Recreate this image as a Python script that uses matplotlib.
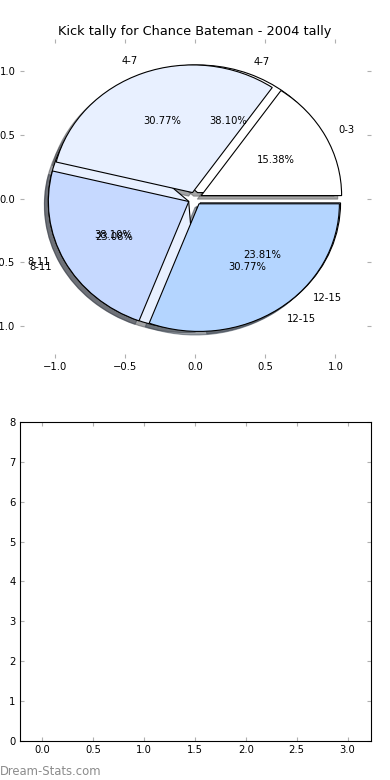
import matplotlib
matplotlib.use('Agg')
import matplotlib.pyplot as plt

# kick tallies by distance band
labels_a = ['0-3', '4-7', '8-11', '12-15']
kicks_a = [2, 4, 3, 4]
labels_b = ['4-7', '8-11', '12-15']
kicks_b = [8, 8, 5]
colors = ['#ffffff', '#e8f0ff', '#c6d9ff', '#b4d5ff']

BASE = 7.2
TICK_COLOR = '#b0b0b0'

fig, (ax1, ax2) = plt.subplots(2, 1, figsize=(3.9, 7.8), dpi=100)
fig.subplots_adjust(left=0.05, right=0.95, top=0.95, bottom=0.05, hspace=0.2)

wedge_props = {'edgecolor': 'black', 'linewidth': 0.8}
text_props = {'fontsize': BASE, 'color': 'black'}

ax1.pie(kicks_b, labels=labels_b, colors=colors[:len(kicks_b)],
        explode=[0.05] * len(kicks_b), autopct='%.2f%%', shadow=True,
        wedgeprops=wedge_props, textprops=text_props)
ax1.pie(kicks_a, labels=labels_a, colors=colors,
        explode=[0.05] * len(kicks_a), autopct='%.2f%%', shadow=True,
        wedgeprops=wedge_props, textprops=text_props)

ax1.set_aspect('auto')
ax1.set_frame_on(False)
ax1.set_xlim(-1.25, 1.25)
ax1.set_ylim(-1.25, 1.25)
ax1.set_xticks([-1.0, -0.5, 0.0, 0.5, 1.0])
ax1.set_yticks([-1.0, -0.5, 0.0, 0.5, 1.0])
ax1.set_title('Kick tally for Chance Bateman - 2004 tally', fontsize=9.3, pad=3)

ax2.set_xlim(-0.225, 3.225)
ax2.set_ylim(0, 8)
ax2.set_xticks([0.0, 0.5, 1.0, 1.5, 2.0, 2.5, 3.0])
ax2.set_yticks(range(0, 9))
for sp in ax2.spines.values():
    sp.set_linewidth(0.8)

for ax in (ax1, ax2):
    ax.tick_params(direction='in', length=3, width=0.8, color=TICK_COLOR,
                   labelcolor='black', labelsize=BASE, pad=3,
                   top=True, right=True)

fig.text(0.0, 0.003, 'Dream-Stats.com', fontsize=8.4, color='#8c8c8c',
         ha='left', va='bottom')

plt.savefig('out.png', dpi=100)
